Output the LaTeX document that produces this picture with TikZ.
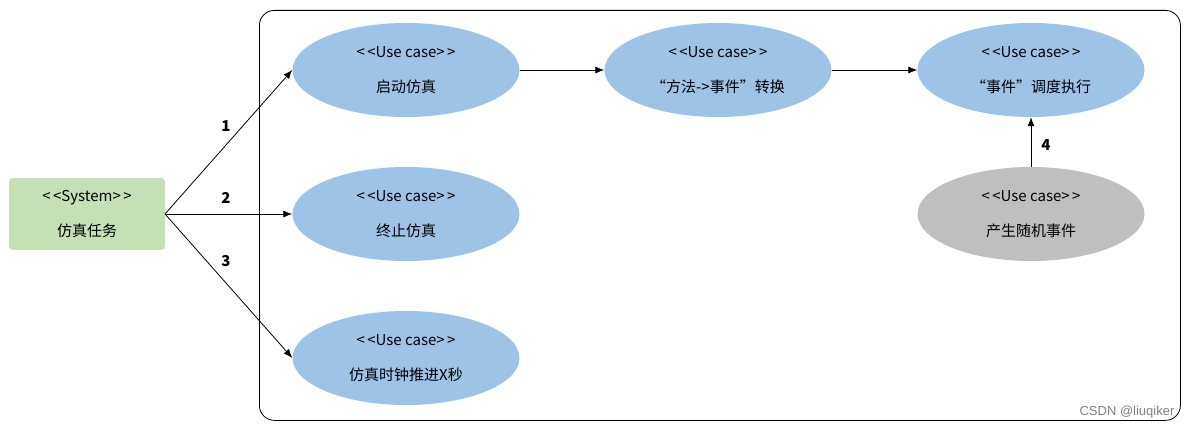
\documentclass[tikz,border=0pt]{standalone}
\usepackage{fontspec}
\setmainfont{Noto Sans CJK SC}
\newfontfamily\wmfont{Liberation Sans}
\usetikzlibrary{shapes.geometric,arrows.meta}
\definecolor{ucblue}{HTML}{9DC3E6}
\definecolor{sysgreen}{HTML}{C5E0B4}
\definecolor{ucgray}{HTML}{BFBFBF}
\newcommand{\stereo}[1]{{<}\,{<}#1{>}\,{>}}
\tikzset{
  usecase/.style={ellipse, fill=#1, minimum width=227pt, minimum height=94pt, inner sep=0pt, align=center, font=\fontsize{15}{35}\selectfont},
  usecase/.default=ucblue,
  sysbox/.style={rounded corners=4pt, fill=sysgreen, minimum width=156pt, minimum height=72pt, align=center, font=\fontsize{15}{35}\selectfont},
  conn/.style={-{Latex[length=9pt,width=7pt]}, line width=0.8pt},
  numlab/.style={font=\fontsize{15}{17}\selectfont\bfseries}
}
\begin{document}
\begin{tikzpicture}[x=1pt,y=-1pt]
\useasboundingbox (0,0) rectangle (1192,430);
\node[draw, rounded corners=15pt, line width=0.8pt, minimum width=921pt, minimum height=410pt, anchor=north west] (frame) at (259,10) {};
\node[sysbox] (sys) at (87,214) {\stereo{System}\\仿真任务};
\node[usecase] (start) at (406,70) {\stereo{Use case}\\启动仿真};
\node[usecase] (conv) at (718,70) {\stereo{Use case}\\“方法->事件”转换};
\node[usecase] (exec) at (1031,70) {\stereo{Use case}\\“事件”调度执行};
\node[usecase] (stop) at (406,214) {\stereo{Use case}\\终止仿真};
\node[usecase] (clock) at (406,358) {\stereo{Use case}\\仿真时钟推进X秒};
\node[usecase=ucgray] (rand) at (1031,214) {\stereo{Use case}\\产生随机事件};
\coordinate (sysr) at (165,214);
\draw[conn] (sysr) -- (start.west);
\draw[conn] (sysr) -- (stop.west);
\draw[conn] (sysr) -- (clock.west);
\node[numlab] (n1) at (226,126) {1};
\node[numlab] (n2) at (226,198) {2};
\node[numlab] (n3) at (226,261) {3};
\draw[conn] (start.east) -- (conv.west);
\draw[conn] (conv.east) -- (exec.west);
\draw[conn] (rand.north) -- (exec.south);
\node[numlab] (n4) at (1046,145) {4};
\node[text=gray, font=\fontsize{13}{15}\selectfont\wmfont] (wm) at (1127,412) {CSDN @liuqiker};
\end{tikzpicture}
\end{document}
